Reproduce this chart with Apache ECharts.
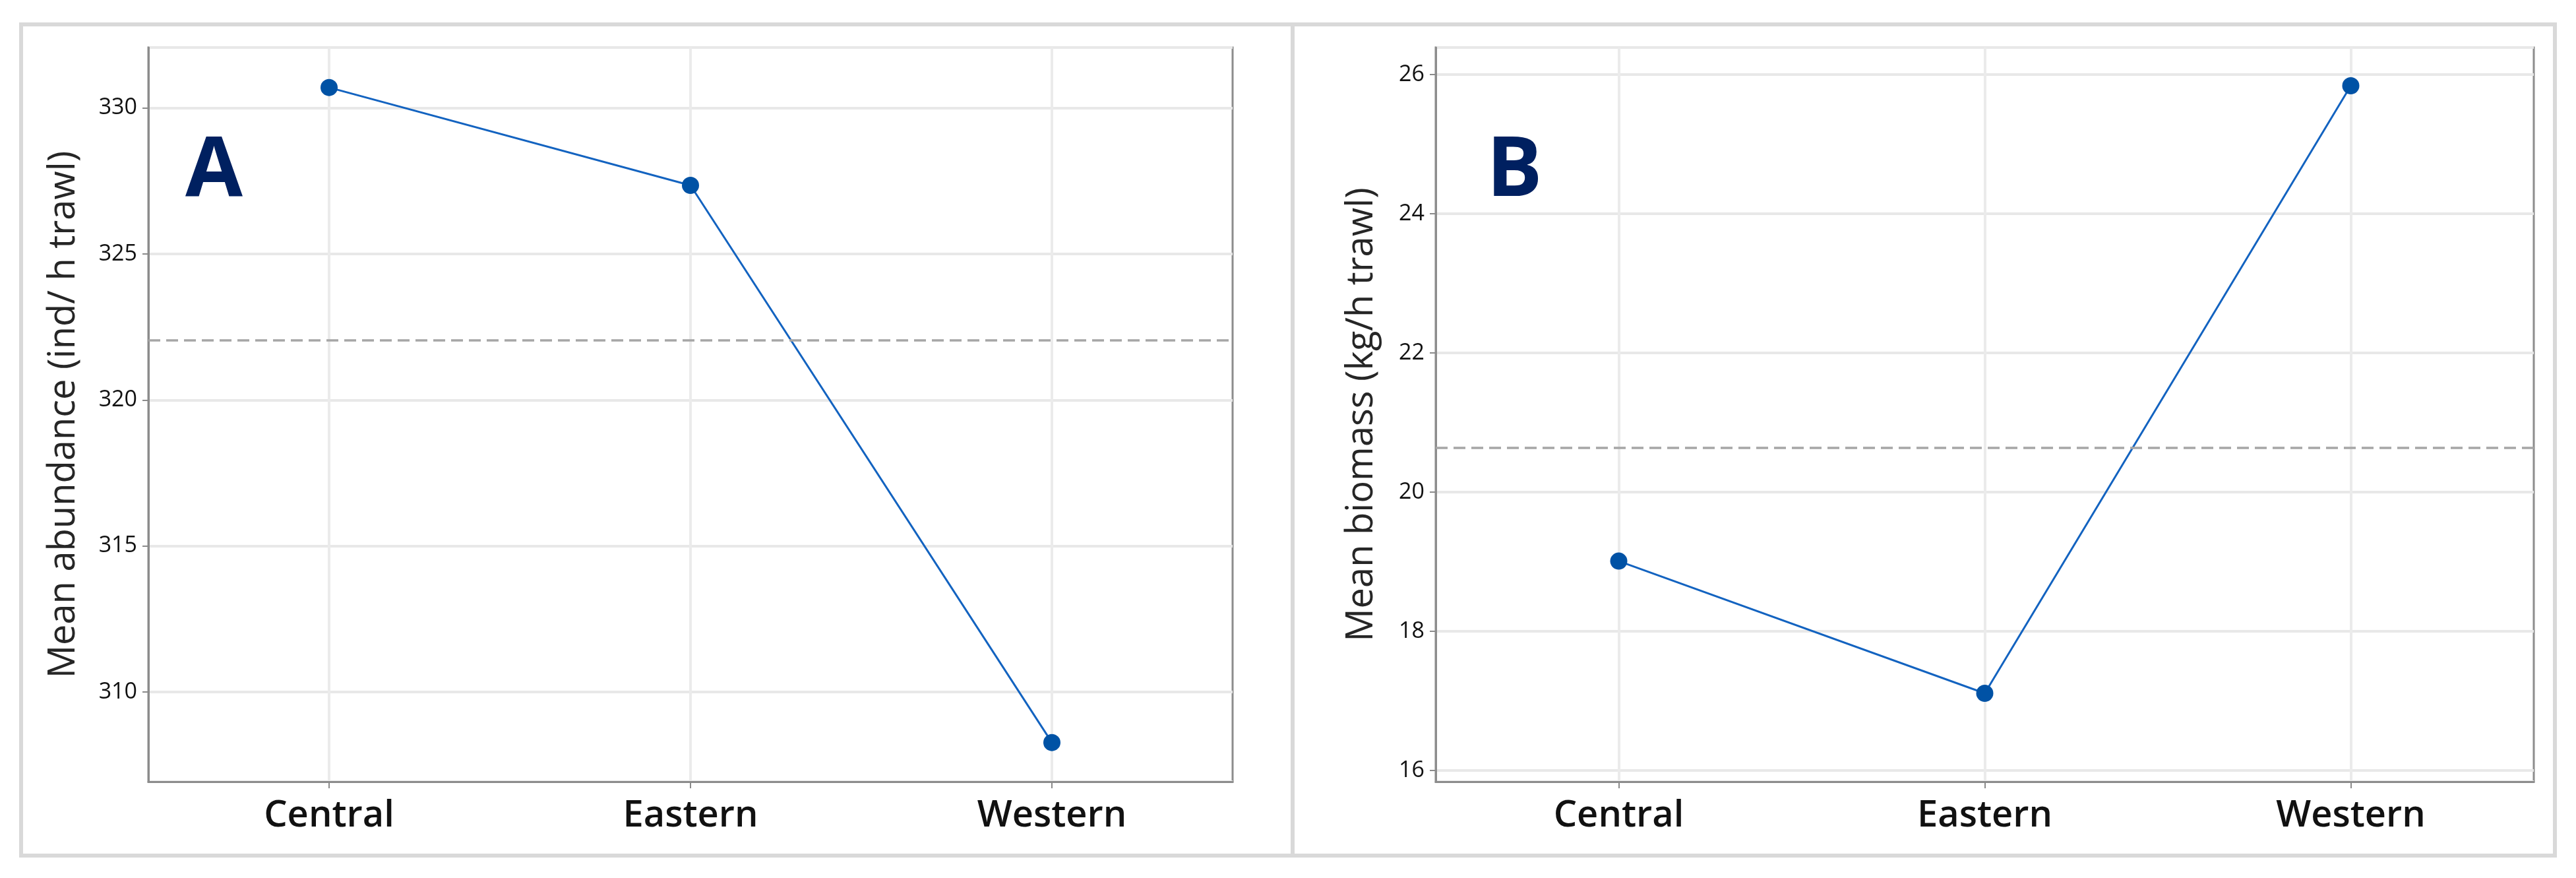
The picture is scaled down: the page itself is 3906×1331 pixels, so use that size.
<!DOCTYPE html>
<html>
<head>
<meta charset="utf-8">
<script src="https://cdn.jsdelivr.net/npm/echarts@6/dist/echarts.min.js"></script>
<style>
  html, body { margin: 0; padding: 0; background: #ffffff; }
  #chart { width: 3906px; height: 1331px; }
</style>
</head>
<body>
<div id="chart"></div>
<script>
// ---- data ----
const categories = ['Central', 'Eastern', 'Western'];
const abundance = [330.7, 327.35, 308.27];      // Mean abundance (ind/ h trawl)
const biomass = [19.01, 17.11, 25.84];          // Mean biomass (kg/h trawl)
const abundanceMean = 322.05;                   // dashed reference line, panel A
const biomassMean = 20.64;                      // dashed reference line, panel B
const abundanceRange = [306.93, 332.07];
const biomassRange = [15.84, 26.39];
const panelLetters = ['A', 'B'];

const FONT = "'Open Sans', 'Noto Sans', sans-serif";
const chart = echarts.init(document.getElementById('chart'), null, { renderer: 'canvas' });

function xAxisCfg(gi) {
  return {
    gridIndex: gi,
    type: 'category',
    data: categories,
    boundaryGap: true,
    axisLine: { show: true, lineStyle: { color: '#8c8c8c', width: 3 } },
    axisTick: { show: true, alignWithLabel: true, length: 10, lineStyle: { color: '#8a8a8a', width: 2 } },
    splitLine: { show: true, alignWithLabel: true, lineStyle: { color: '#ebebeb', width: 4 } },
    axisLabel: { fontSize: 56, fontWeight: 600, color: '#111111', fontFamily: FONT, margin: 24 }
  };
}
function yAxisCfg(gi, range, name, gap) {
  return {
    gridIndex: gi,
    type: 'value',
    min: range[0],
    max: range[1],
    splitNumber: 5,
    name: name,
    nameLocation: 'middle',
    nameGap: gap,
    nameTextStyle: { fontSize: 56, color: '#262626', fontFamily: FONT },
    axisLine: { show: true, lineStyle: { color: '#8c8c8c', width: 3 } },
    axisTick: { show: true, length: 9, lineStyle: { color: '#8a8a8a', width: 2 } },
    splitLine: { show: true, lineStyle: { color: '#e8e8e8', width: 4 } },
    axisLabel: { fontSize: 34, color: '#111111', fontFamily: FONT, margin: 17, showMinLabel: false, showMaxLabel: false }
  };
}
function seriesCfg(gi, data, mean) {
  return {
    type: 'line',
    xAxisIndex: gi,
    yAxisIndex: gi,
    data: data,
    symbol: 'circle',
    symbolSize: 26,
    itemStyle: { color: '#0052a5' },
    lineStyle: { color: '#1363c0', width: 3 },
    silent: true,
    markLine: {
      silent: true,
      symbol: 'none',
      label: { show: false },
      lineStyle: { type: [18, 9], color: '#a6a6a6', width: 3.5 },
      data: [{ yAxis: mean }]
    }
  };
}

const option = {
  animation: false,
  backgroundColor: '#ffffff',
  grid: [
    { left: 225, right: 2037, top: 72, bottom: 146, show: true, borderColor: '#8c8c8c', borderWidth: 3, backgroundColor: '#ffffff' },
    { left: 2177, right: 64, top: 72, bottom: 146, show: true, borderColor: '#8c8c8c', borderWidth: 3, backgroundColor: '#ffffff' }
  ],
  xAxis: [xAxisCfg(0), xAxisCfg(1)],
  yAxis: [
    yAxisCfg(0, abundanceRange, 'Mean abundance (ind/ h trawl)', 100),
    yAxisCfg(1, biomassRange, 'Mean biomass (kg/h trawl)', 84)
  ],
  series: [
    seriesCfg(0, abundance, abundanceMean),
    seriesCfg(1, biomass, biomassMean)
  ],
  graphic: [
    { type: 'rect', silent: true, z: 0, shape: { x: 32, y: 37, width: 3842, height: 1260 },
      style: { fill: 'none', stroke: '#d9d9d9', lineWidth: 6 } },
    { type: 'line', silent: true, z: 0, shape: { x1: 1960, y1: 37, x2: 1960, y2: 1297 },
      style: { stroke: '#d9d9d9', lineWidth: 6 } },
    { type: 'text', silent: true, z: 100, style: { text: panelLetters[0], x: 281, y: 261, textAlign: 'left', textVerticalAlign: 'middle',
      font: "bold 126px 'Open Sans', 'Noto Sans', sans-serif", fill: '#002060' } },
    { type: 'text', silent: true, z: 100, style: { text: panelLetters[1], x: 2254, y: 261, textAlign: 'left', textVerticalAlign: 'middle',
      font: "bold 126px 'Open Sans', 'Noto Sans', sans-serif", fill: '#002060' } }
  ]
};
chart.setOption(option);
</script>
</body>
</html>
